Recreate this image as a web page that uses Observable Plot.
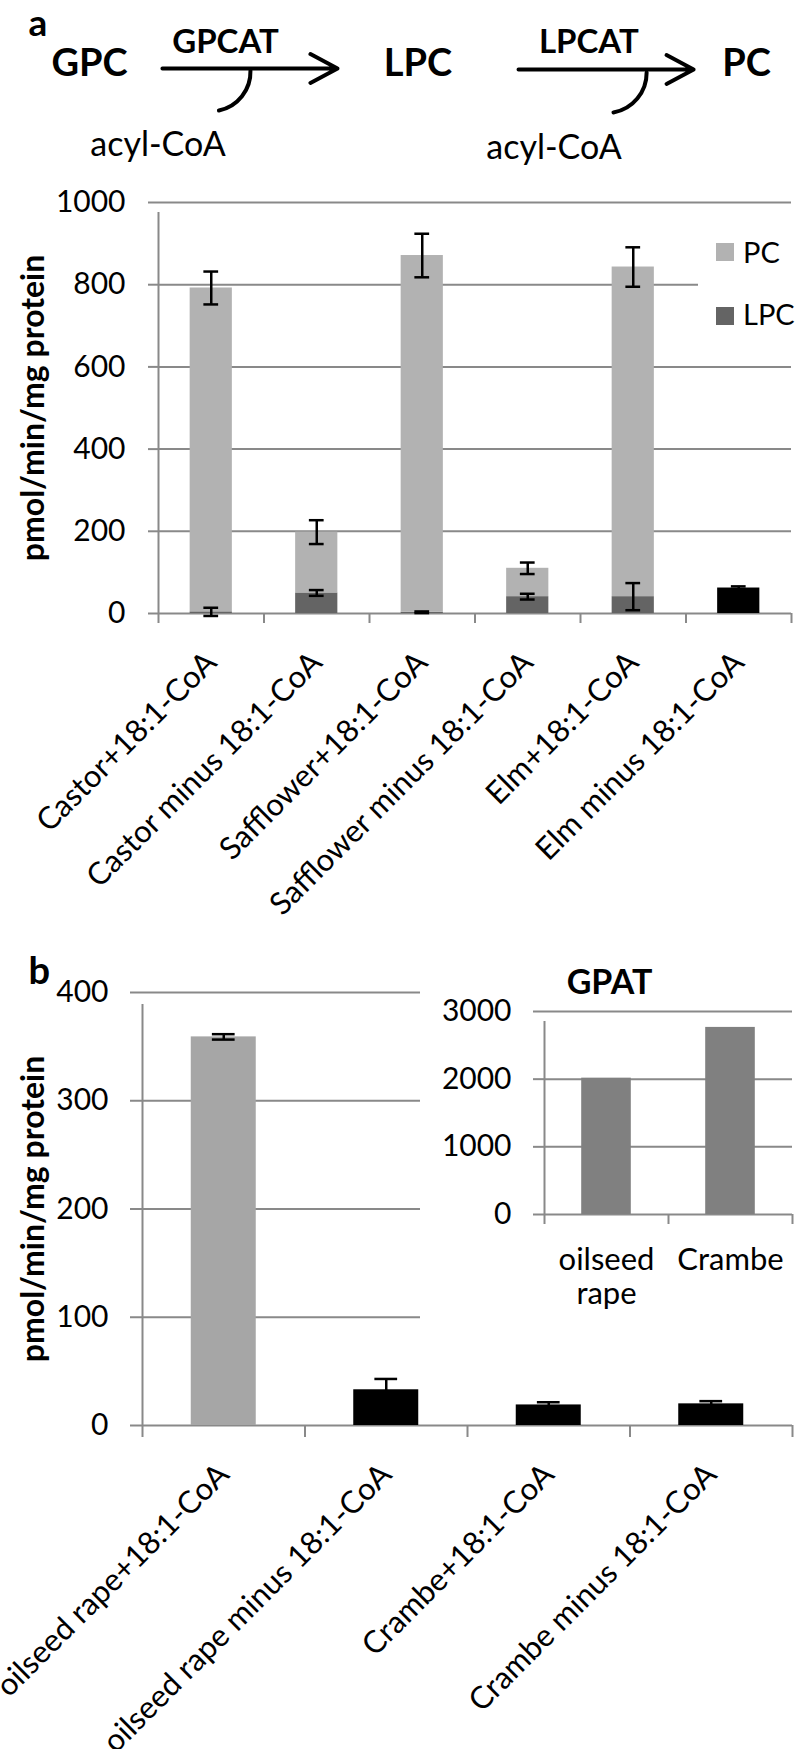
<!DOCTYPE html>
<html>
<head>
<meta charset="utf-8">
<script src="https://cdn.jsdelivr.net/npm/d3@7"></script>
<script src="https://cdn.jsdelivr.net/npm/@observablehq/plot@0.6"></script>
<style>
  body { margin: 0; background: #fff; font-family: Lato, sans-serif; }
  #page { position: relative; width: 796px; height: 1749px; overflow: hidden; background: #fff; }
</style>
</head>
<body>
<div id="page"></div>
<script>
// ---------- data ----------
const schemeNodes = ["GPC", "LPC", "PC"];
const schemeEnzymes = ["GPCAT", "LPCAT"];
const schemeCosubstrates = ["acyl-CoA", "acyl-CoA"];

const categoriesA = ["Castor+18:1-CoA", "Castor minus 18:1-CoA", "Safflower+18:1-CoA",
  "Safflower minus 18:1-CoA", "Elm+18:1-CoA", "Elm minus 18:1-CoA"];
const lpcA = [4, 50, 3, 41, 41, null];
const lpcErrA = [10, 7, 2, 7, 33, null];
const pcA = [788, 148, 868, 69, 802, null];
const pcErrA = [40, 29, 53, 14, 48, null];
const totalA = [null, null, null, null, null, 62];
const totalErrA = [null, null, null, null, null, 4];
const ticksA = [0, 200, 400, 600, 800, 1000];
const legendA = ["PC", "LPC"];

const categoriesB = ["oilseed rape+18:1-CoA", "oilseed rape minus 18:1-CoA", "Crambe+18:1-CoA", "Crambe minus 18:1-CoA"];
const seriesB = ["PC", "total", "total", "total"];
const valuesB = [359, 33, 19, 20];
const errorsB = [2.5, 10, 2.5, 2.5];
const ticksB = [0, 100, 200, 300, 400];

const categoriesInset = ["oilseed\nrape", "Crambe"];
const valuesInset = [2015, 2765];
const ticksInset = [0, 1000, 2000, 3000];

const yLabel = "pmol/min/mg protein";

// ---------- styles / layout ----------
const GRID = "#898989";
const FONT = "Lato, sans-serif";
const TICK_FS = 30;
const colorsA = {domain: ["LPC", "PC", "total"], range: ["#646464", "#b2b2b2", "#000000"]};
const colorsB = {domain: ["PC", "total"], range: ["#a6a6a6", "#000000"]};
const INSET_FILL = "#808080";
const barHalf = 0.2, capHalf = 0.07;
const plainNumber = d => String(d);

const page = document.getElementById("page");
function place(el, left, top) {
  el.style.position = "absolute";
  el.style.left = left + "px";
  el.style.top = top + "px";
  page.appendChild(el);
  return el;
}
const baseStyle = {fontFamily: FONT, fontSize: "28px", color: "#000", background: "transparent", overflow: "visible"};

// ---------- reaction scheme ----------
const schemeLayout = [
  {arrow: [0.222, 0.755], arrowY: 68, enzymeX: 0.414, cosubX: 0.2085, cosubY: 155, hook: [0.49, 70, 0.394, 110]},
  {arrow: [1.306, 1.839], arrowY: 69, enzymeX: 1.52, cosubX: 1.414, cosubY: 158, hook: [1.696, 72, 1.595, 112]}
];
const steps = schemeEnzymes.map((enzyme, i) => ({enzyme, cosub: schemeCosubstrates[i], ...schemeLayout[i]}));

const header = Plot.plot({
  width: 796, height: 170, margin: 0,
  style: baseStyle,
  x: {domain: [0, 2], range: [89, 746], axis: null},
  y: {domain: [0, 170], range: [0, 170], axis: null},
  marks: [
    Plot.text(["a"], {frameAnchor: "top-left", dx: 28, dy: 35, textAnchor: "start", lineAnchor: "bottom", fontWeight: "bold", fontSize: 37, fill: "#000"}),
    Plot.text(schemeNodes, {x: (d, i) => i, y: 75, text: d => d, lineAnchor: "bottom", fontWeight: "bold", fontSize: 38, fill: "#000"}),
    Plot.arrow(steps, {x1: d => d.arrow[0], x2: d => d.arrow[1], y1: "arrowY", y2: "arrowY", stroke: "#000", strokeWidth: 4, headLength: 11.5, headAngle: 56}),
    Plot.arrow(steps, {x1: d => d.hook[0], y1: d => d.hook[1], x2: d => d.hook[2], y2: d => d.hook[3], bend: 40, headLength: 0, stroke: "#000", strokeWidth: 4}),
    Plot.text(steps, {x: "enzymeX", y: 52, text: "enzyme", lineAnchor: "bottom", fontWeight: "bold", fontSize: 33, fill: "#000"}),
    Plot.text(steps, {x: "cosubX", y: "cosubY", text: "cosub", lineAnchor: "bottom", fontSize: 34, fill: "#000"})
  ]
});
place(header, 0, 0);

// ---------- panel a ----------
const rowsA = [];
categoriesA.forEach((cat, i) => {
  let base = 0;
  [["LPC", lpcA[i], lpcErrA[i]], ["PC", pcA[i], pcErrA[i]], ["total", totalA[i], totalErrA[i]]].forEach(([series, v, e]) => {
    if (v == null) return;
    rowsA.push({cat, i, series, y1: base, y2: base + v, err: e});
    base += v;
  });
});

function errorMarks(rows, topKey, sw) {
  return [
    Plot.ruleX(rows, {x: d => d.i + 0.5, y1: d => d[topKey] - d.err, y2: d => d[topKey] + d.err, stroke: "#000", strokeWidth: sw}),
    Plot.ruleY(rows, {y: d => d[topKey] - d.err, x1: d => d.i + 0.5 - capHalf, x2: d => d.i + 0.5 + capHalf, stroke: "#000", strokeWidth: sw}),
    Plot.ruleY(rows, {y: d => d[topKey] + d.err, x1: d => d.i + 0.5 - capHalf, x2: d => d.i + 0.5 + capHalf, stroke: "#000", strokeWidth: sw})
  ];
}

const panelA = Plot.plot({
  width: 796, height: 710,
  marginTop: 32, marginRight: 5, marginBottom: 267, marginLeft: 158,
  style: baseStyle,
  x: {domain: [0, categoriesA.length]},
  y: {domain: [0, 1000]},
  color: colorsA,
  marks: [
    Plot.ruleY(ticksA, {stroke: GRID, strokeWidth: 2}),
    Plot.axisY(ticksA, {tickSize: 10, tickPadding: 23, tickFormat: plainNumber, stroke: GRID, strokeWidth: 2, fill: "#000", fontSize: TICK_FS, label: null}),
    Plot.ruleX([0], {y1: 0, y2: 1000, stroke: GRID, strokeWidth: 2, insetBottom: -10}),
    Plot.axisX(d3.range(categoriesA.length + 1), {tickSize: 10, tickFormat: () => "", stroke: GRID, strokeWidth: 2, label: null}),
    Plot.axisX(categoriesA.map((c, i) => i + 0.5), {tickSize: 0, tickPadding: 44, tickRotate: -45, tickFormat: d => categoriesA[Math.round(d - 0.5)], fill: "#000", fontSize: 31, label: null}),
    Plot.rectY(rowsA, {x1: d => d.i + 0.5 - barHalf, x2: d => d.i + 0.5 + barHalf, y1: "y1", y2: "y2", fill: "series"}),
    ...errorMarks(rowsA, "y2", 2.5),
    Plot.text([yLabel], {frameAnchor: "left", dx: -125, rotate: -90, textAnchor: "middle", lineAnchor: "middle", fontWeight: "bold", fontSize: 32, fill: "#000"})
  ]
});
place(panelA, 0, 170);

// legend a (drawn over the gridline like the original)
const legendSvg = document.createElementNS("http://www.w3.org/2000/svg", "svg");
legendSvg.setAttribute("width", 98);
legendSvg.setAttribute("height", 112);
legendSvg.style.background = "#fff";
legendA.forEach((name, k) => {
  const sq = document.createElementNS("http://www.w3.org/2000/svg", "rect");
  sq.setAttribute("x", 18); sq.setAttribute("y", 15 + k * 64);
  sq.setAttribute("width", 18); sq.setAttribute("height", 18);
  sq.setAttribute("fill", colorsA.range[colorsA.domain.indexOf(name)]);
  legendSvg.appendChild(sq);
  const t = document.createElementNS("http://www.w3.org/2000/svg", "text");
  t.setAttribute("x", 45); t.setAttribute("y", 35 + k * 62);
  t.setAttribute("font-family", FONT); t.setAttribute("font-size", 29);
  t.textContent = name;
  legendSvg.appendChild(t);
});
place(legendSvg, 698, 228);

// ---------- panel b ----------
const rowsB = categoriesB.map((cat, i) => ({cat, i, series: seriesB[i], v: valuesB[i], err: errorsB[i]}));
const panelB = Plot.plot({
  width: 796, height: 869,
  marginTop: 112, marginRight: 4, marginBottom: 324, marginLeft: 142,
  style: baseStyle,
  x: {domain: [0, categoriesB.length]},
  y: {domain: [0, 400]},
  color: colorsB,
  marks: [
    Plot.ruleY(ticksB, {stroke: GRID, strokeWidth: 2}),
    Plot.axisY(ticksB, {tickSize: 12, tickPadding: 22, tickFormat: plainNumber, stroke: GRID, strokeWidth: 2, fill: "#000", fontSize: TICK_FS, label: null}),
    Plot.ruleX([0], {y1: 0, y2: 400, stroke: GRID, strokeWidth: 2, insetBottom: -12}),
    Plot.axisX(d3.range(categoriesB.length + 1), {tickSize: 12, tickFormat: () => "", stroke: GRID, strokeWidth: 2, label: null}),
    Plot.axisX(categoriesB.map((c, i) => i + 0.5), {tickSize: 0, tickPadding: 44, tickRotate: -45, tickFormat: d => categoriesB[Math.round(d - 0.5)], fill: "#000", fontSize: 31, label: null}),
    Plot.rectY(rowsB, {x1: d => d.i + 0.5 - barHalf, x2: d => d.i + 0.5 + barHalf, y1: 0, y2: "v", fill: "series"}),
    ...errorMarks(rowsB, "v", 2.5),
    Plot.text([yLabel], {frameAnchor: "left", dx: -109, rotate: -90, textAnchor: "middle", lineAnchor: "middle", fontWeight: "bold", fontSize: 32, fill: "#000"}),
    Plot.text(["b"], {frameAnchor: "top-left", dx: -114, dy: -9, textAnchor: "start", lineAnchor: "bottom", fontWeight: "bold", fontSize: 38, fill: "#000"})
  ]
});
place(panelB, 0, 880);

// ---------- inset (GPAT) ----------
const rowsInset = categoriesInset.map((cat, i) => ({cat, i, v: valuesInset[i]}));
const inset = Plot.plot({
  width: 376, height: 390,
  marginTop: 61, marginRight: 4, marginBottom: 126, marginLeft: 124,
  style: {...baseStyle, background: "#fff"},
  x: {domain: [0, categoriesInset.length]},
  y: {domain: [0, 3000]},
  marks: [
    Plot.ruleY(ticksInset, {stroke: GRID, strokeWidth: 2}),
    Plot.axisY(ticksInset, {tickSize: 11, tickPadding: 22, tickFormat: plainNumber, stroke: GRID, strokeWidth: 2, fill: "#000", fontSize: TICK_FS, label: null}),
    Plot.ruleX([0], {y1: 0, y2: 3000, stroke: GRID, strokeWidth: 2, insetBottom: -10}),
    Plot.axisX(d3.range(categoriesInset.length + 1), {tickSize: 10, tickFormat: () => "", stroke: GRID, strokeWidth: 2, label: null}),
    Plot.axisX(categoriesInset.map((c, i) => i + 0.5), {tickSize: 0, tickPadding: 32, tickFormat: d => categoriesInset[Math.round(d - 0.5)], fill: "#000", fontSize: 31, lineHeight: 1.08, label: null}),
    Plot.rectY(rowsInset, {x1: d => d.i + 0.5 - barHalf, x2: d => d.i + 0.5 + barHalf, y1: 0, y2: "v", fill: INSET_FILL}),
    Plot.text(["GPAT"], {frameAnchor: "top", dx: -59, dy: -18, lineAnchor: "bottom", fontWeight: "bold", fontSize: 34, fill: "#000"})
  ]
});
place(inset, 420, 950);
</script>
</body>
</html>
